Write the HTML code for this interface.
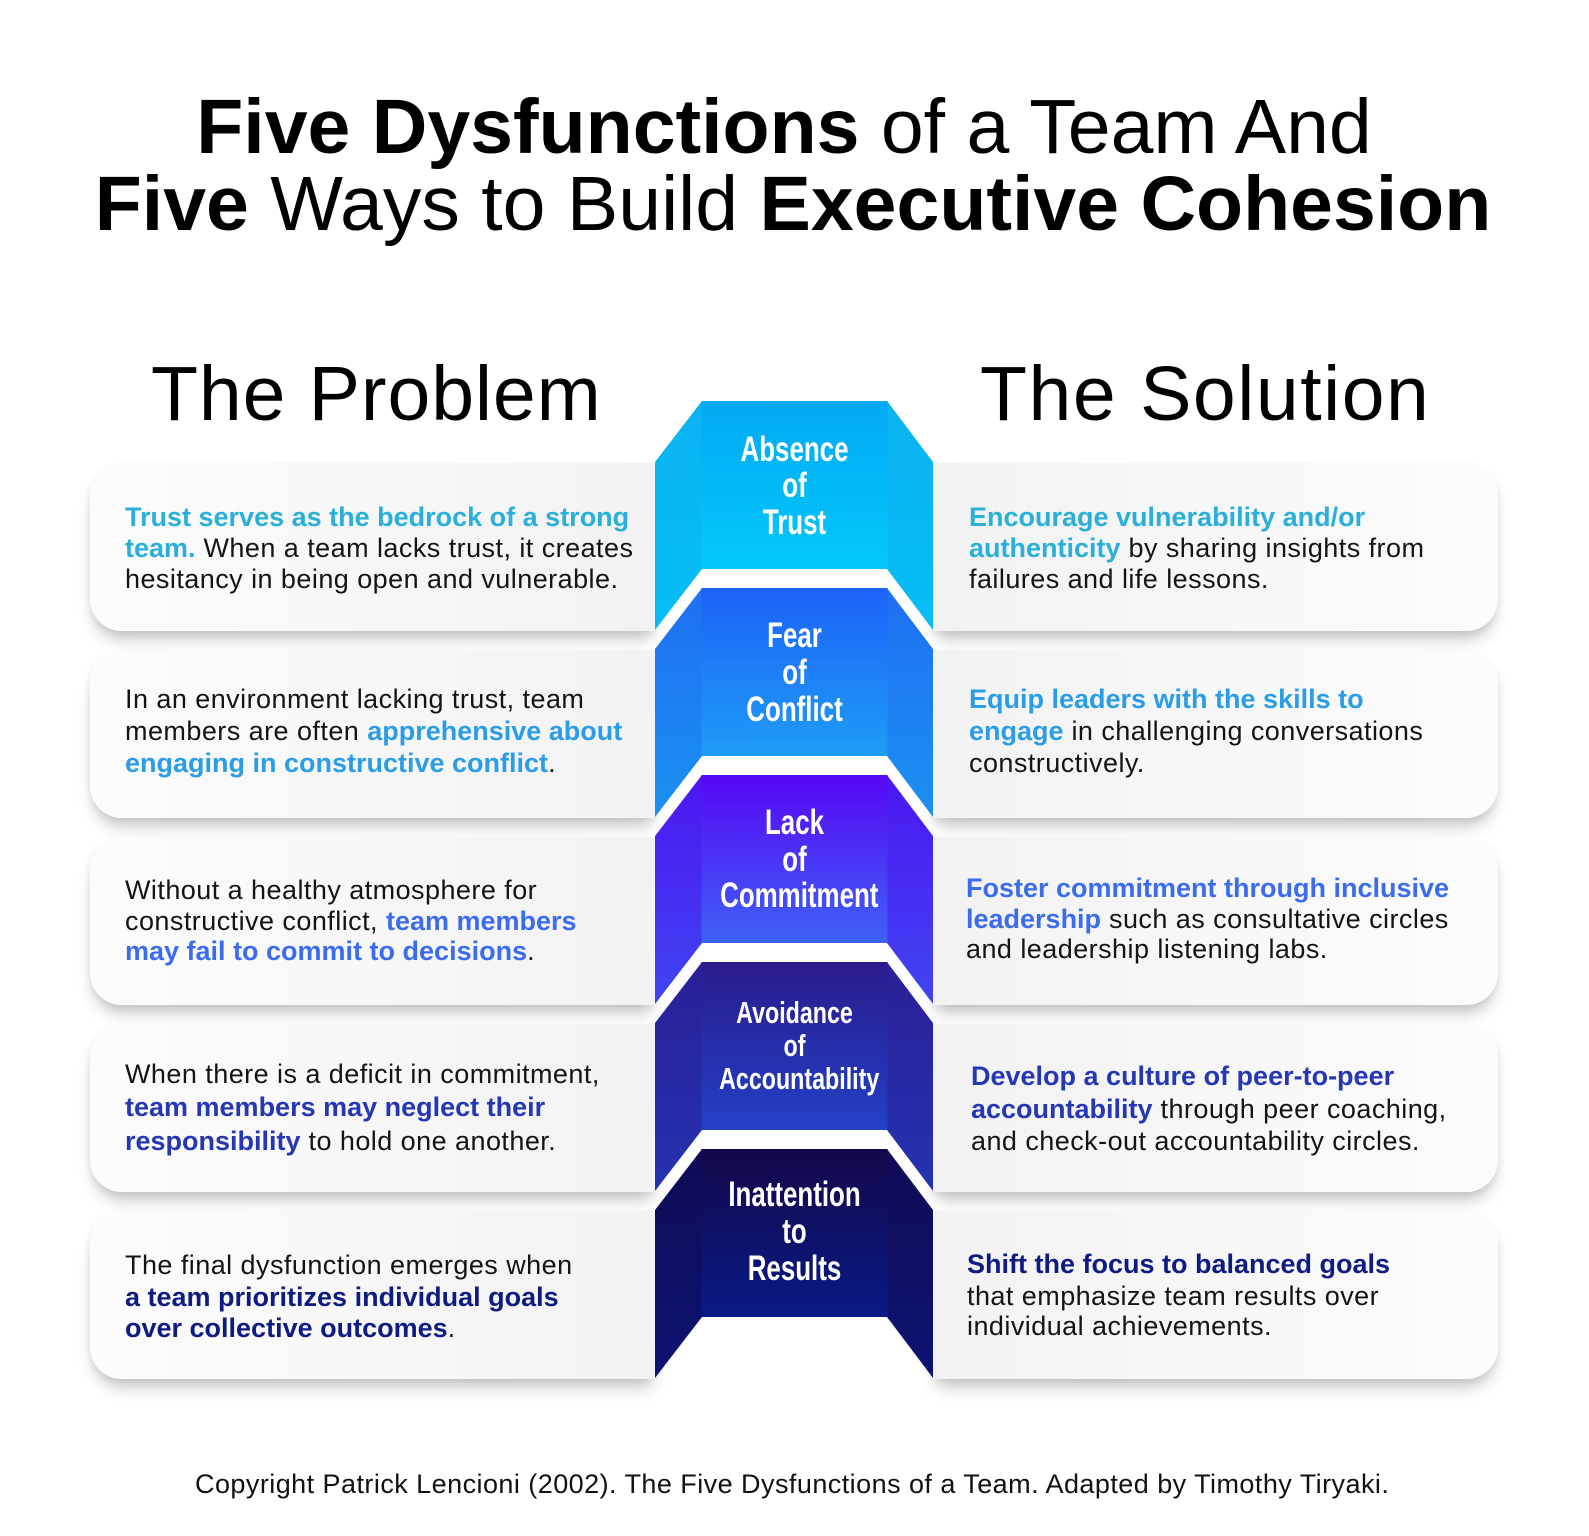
<!DOCTYPE html>
<html>
<head>
<meta charset="utf-8">
<style>
  html,body{margin:0;padding:0;background:#fff;}
  .page{position:relative;width:1589px;height:1536px;background:#fff;overflow:hidden;font-family:"Liberation Sans",Arial,sans-serif;}
  .title{position:absolute;font-size:77px;line-height:77px;color:#000;white-space:nowrap;text-align:center;}
  .title b{font-weight:700;}
  .title span{font-weight:400;}
  .head{position:absolute;font-size:77px;line-height:77px;color:#000;white-space:nowrap;font-weight:400;}
  .card{position:absolute;height:168px;width:565px;box-shadow:0 12px 16px -4px rgba(0,0,0,0.22),0 3px 8px rgba(0,0,0,0.06);}
  .cl{left:90px;border-radius:32px 0 0 32px;background:linear-gradient(to right,#fcfcfc,#f2f2f2);}
  .cr{left:933px;border-radius:0 32px 32px 0;background:linear-gradient(to right,#f2f2f2,#fcfcfc);}
  .ln{position:absolute;font-size:27px;line-height:30px;white-space:nowrap;color:#141414;letter-spacing:0.45px;}
  .ln b{font-weight:700;letter-spacing:0;}
  .c1{color:#29afd9;} .c2{color:#2b9de6;} .c3{color:#3b6cee;} .c4{color:#2637b3;} .c5{color:#0f1b80;}
  .lab{position:absolute;left:694px;width:201px;text-align:center;color:#fff;font-weight:700;white-space:nowrap;font-size:35px;line-height:40px;transform:scaleX(0.74);transform-origin:50% 50%;}
  .lab.s{font-size:31px;line-height:36px;transform:scaleX(0.75);}
  svg{position:absolute;left:0;top:0;}
</style>
</head>
<body>
<div class="page">

  <div class="title" style="top:89px;left:0;width:1568px;"><b>Five Dysfunctions</b><span> of a Team And</span></div>
  <div class="title" style="top:166px;left:0;width:1586px;"><b>Five</b><span> Ways to Build </span><b>Executive Cohesion</b></div>

  <div class="head" style="top:356px;left:151px;letter-spacing:0.9px;">The Problem</div>
  <div class="head" style="top:356px;left:980px;letter-spacing:1.5px;">The Solution</div>

  <!-- left cards -->
  <div class="card cl" style="top:463px;"></div>
  <div class="card cl" style="top:650px;"></div>
  <div class="card cl" style="top:837px;"></div>
  <div class="card cl" style="top:1024px;"></div>
  <div class="card cl" style="top:1211px;"></div>
  <!-- right cards -->
  <div class="card cr" style="top:463px;"></div>
  <div class="card cr" style="top:650px;"></div>
  <div class="card cr" style="top:837px;"></div>
  <div class="card cr" style="top:1024px;"></div>
  <div class="card cr" style="top:1211px;"></div>

  <svg width="1589" height="1536" viewBox="0 0 1589 1536">
    <defs>
      <linearGradient id="f1" x1="0" y1="0" x2="0" y2="1"><stop offset="0" stop-color="#02a9f4"/><stop offset="1" stop-color="#04c8fb"/></linearGradient>
      <linearGradient id="s1" x1="0" y1="0" x2="0" y2="1"><stop offset="0" stop-color="#0ab2f2"/><stop offset="1" stop-color="#06bef5"/></linearGradient>
      <linearGradient id="f2" x1="0" y1="0" x2="0" y2="1"><stop offset="0" stop-color="#1c62f7"/><stop offset="1" stop-color="#1f9cf6"/></linearGradient>
      <linearGradient id="s2" x1="0" y1="0" x2="0" y2="1"><stop offset="0" stop-color="#1f6ff3"/><stop offset="1" stop-color="#1b90f0"/></linearGradient>
      <linearGradient id="f3" x1="0" y1="0" x2="0" y2="1"><stop offset="0" stop-color="#5607f5"/><stop offset="1" stop-color="#3e62f6"/></linearGradient>
      <linearGradient id="s3" x1="0" y1="0" x2="0" y2="1"><stop offset="0" stop-color="#4c16f2"/><stop offset="1" stop-color="#4045f2"/></linearGradient>
      <linearGradient id="f4" x1="0" y1="0" x2="0" y2="1"><stop offset="0" stop-color="#2a1b8d"/><stop offset="1" stop-color="#2340c6"/></linearGradient>
      <linearGradient id="s4" x1="0" y1="0" x2="0" y2="1"><stop offset="0" stop-color="#2a1f96"/><stop offset="1" stop-color="#2532b2"/></linearGradient>
      <linearGradient id="f5" x1="0" y1="0" x2="0" y2="1"><stop offset="0" stop-color="#120849"/><stop offset="1" stop-color="#0a1a86"/></linearGradient>
      <linearGradient id="s5" x1="0" y1="0" x2="0" y2="1"><stop offset="0" stop-color="#110a55"/><stop offset="1" stop-color="#0c1472"/></linearGradient>
    </defs>
    <!-- block 1 -->
    <polygon points="655,462 702,401 702,569 655,630" fill="url(#s1)"/>
    <polygon points="887,401 933,462 933,630 887,569" fill="url(#s1)"/>
    <rect x="701.5" y="401" width="186" height="168" fill="url(#f1)"/>
    <!-- block 2 -->
    <polygon points="655,649 702,588 702,756 655,817" fill="url(#s2)"/>
    <polygon points="887,588 933,649 933,817 887,756" fill="url(#s2)"/>
    <rect x="701.5" y="588" width="186" height="168" fill="url(#f2)"/>
    <!-- block 3 -->
    <polygon points="655,836 702,775 702,943 655,1004" fill="url(#s3)"/>
    <polygon points="887,775 933,836 933,1004 887,943" fill="url(#s3)"/>
    <rect x="701.5" y="775" width="186" height="168" fill="url(#f3)"/>
    <!-- block 4 -->
    <polygon points="655,1023 702,962 702,1130 655,1191" fill="url(#s4)"/>
    <polygon points="887,962 933,1023 933,1191 887,1130" fill="url(#s4)"/>
    <rect x="701.5" y="962" width="186" height="168" fill="url(#f4)"/>
    <!-- block 5 -->
    <polygon points="655,1210 702,1149 702,1317 655,1378" fill="url(#s5)"/>
    <polygon points="887,1149 933,1210 933,1378 887,1317" fill="url(#s5)"/>
    <rect x="701.5" y="1149" width="186" height="168" fill="url(#f5)"/>
  </svg>

  <!-- block labels -->
  <div class="lab" style="top:430px;">Absence</div>
  <div class="lab" style="top:466px;">of</div>
  <div class="lab" style="top:503px;">Trust</div>

  <div class="lab" style="top:616px;">Fear</div>
  <div class="lab" style="top:653px;">of</div>
  <div class="lab" style="top:690px;">Conflict</div>

  <div class="lab" style="top:803px;">Lack</div>
  <div class="lab" style="top:840px;">of</div>
  <div class="lab" style="top:876px;">Commitment</div>

  <div class="lab s" style="top:995px;">Avoidance</div>
  <div class="lab s" style="top:1028px;">of</div>
  <div class="lab s" style="top:1061px;">Accountability</div>

  <div class="lab" style="top:1175px;">Inattention</div>
  <div class="lab" style="top:1212px;">to</div>
  <div class="lab" style="top:1249px;">Results</div>

  <!-- left texts -->
  <div class="ln" style="left:125px;top:502px;"><b class="c1">Trust serves as the bedrock of a strong</b></div>
  <div class="ln" style="left:125px;top:533px;"><b class="c1">team.</b> When a team lacks trust, it creates</div>
  <div class="ln" style="left:125px;top:564px;">hesitancy in being open and vulnerable.</div>

  <div class="ln" style="left:125px;top:684px;">In an environment lacking trust, team</div>
  <div class="ln" style="left:125px;top:716px;">members are often <b class="c2">apprehensive about</b></div>
  <div class="ln" style="left:125px;top:748px;"><b class="c2">engaging in constructive conflict</b>.</div>

  <div class="ln" style="left:125px;top:875px;">Without a healthy atmosphere for</div>
  <div class="ln" style="left:125px;top:906px;">constructive conflict, <b class="c3">team members</b></div>
  <div class="ln" style="left:125px;top:936px;"><b class="c3">may fail to commit to decisions</b>.</div>

  <div class="ln" style="left:125px;top:1059px;">When there is a deficit in commitment,</div>
  <div class="ln" style="left:125px;top:1092px;"><b class="c4">team members may neglect their</b></div>
  <div class="ln" style="left:125px;top:1126px;"><b class="c4">responsibility</b> to hold one another.</div>

  <div class="ln" style="left:125px;top:1250px;">The final dysfunction emerges when</div>
  <div class="ln" style="left:125px;top:1282px;"><b class="c5">a team prioritizes individual goals</b></div>
  <div class="ln" style="left:125px;top:1313px;"><b class="c5">over collective outcomes</b>.</div>

  <!-- right texts -->
  <div class="ln" style="left:969px;top:502px;"><b class="c1">Encourage vulnerability and/or</b></div>
  <div class="ln" style="left:969px;top:533px;"><b class="c1">authenticity</b> by sharing insights from</div>
  <div class="ln" style="left:969px;top:564px;">failures and life lessons.</div>

  <div class="ln" style="left:969px;top:684px;"><b class="c2">Equip leaders with the skills to</b></div>
  <div class="ln" style="left:969px;top:716px;"><b class="c2">engage</b> in challenging conversations</div>
  <div class="ln" style="left:969px;top:748px;">constructively.</div>

  <div class="ln" style="left:966px;top:873px;"><b class="c3">Foster commitment through inclusive</b></div>
  <div class="ln" style="left:966px;top:904px;"><b class="c3">leadership</b> such as consultative circles</div>
  <div class="ln" style="left:966px;top:934px;">and leadership listening labs.</div>

  <div class="ln" style="left:971px;top:1061px;"><b class="c4">Develop a culture of peer-to-peer</b></div>
  <div class="ln" style="left:971px;top:1094px;"><b class="c4">accountability</b> through peer coaching,</div>
  <div class="ln" style="left:971px;top:1126px;">and check-out accountability circles.</div>

  <div class="ln" style="left:967px;top:1249px;"><b class="c5">Shift the focus to balanced goals</b></div>
  <div class="ln" style="left:967px;top:1281px;">that emphasize team results over</div>
  <div class="ln" style="left:967px;top:1311px;">individual achievements.</div>

  <div class="ln" style="left:195px;top:1469px;color:#111;">Copyright Patrick Lencioni (2002). The Five Dysfunctions of a Team. Adapted by Timothy Tiryaki.</div>

</div>
</body>
</html>
